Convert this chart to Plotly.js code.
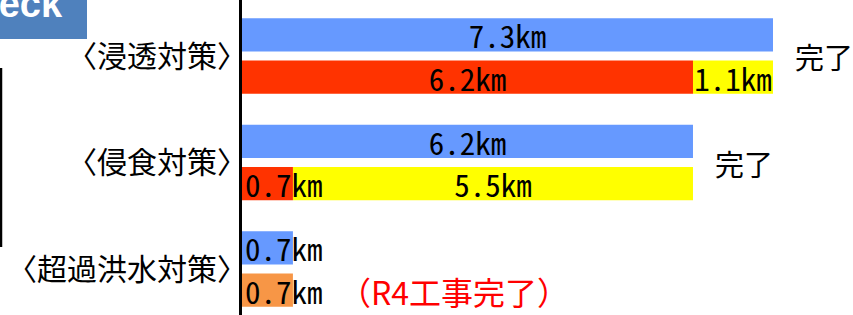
<!DOCTYPE html>
<html>
<head>
<meta charset="utf-8">
<script src="https://cdn.plot.ly/plotly-3.0.1.min.js"></script>
<style>html,body{margin:0;padding:0;background:#fff;}#chart{width:853px;height:315px;}</style>
</head>
<body>
<div id="chart"></div>
<script>
// ---- data ----
const categories = ['〈浸透対策〉', '〈侵食対策〉', '〈超過洪水対策〉'];
const planKm     = [7.3, 6.2, 0.7];      // 計画延長 (blue)
const doneKm     = [6.2, 0.7, null];     // 整備済 (red)
const recentKm   = [1.1, 5.5, null];     // 整備 (yellow)
const r4Km       = [null, null, 0.7];    // R4工事 (orange)
const statusText = ['完了', '完了', null];
const noteText   = [null, null, '（R4工事完了）'];

// ---- layout helpers ----
const W = 853, H = 315, L = 242;
const PW = W - L, PH = H;
const px2x = p => (p - L) / PW;
const py2y = p => 1 - p / PH;

const barFont = {family: 'Noto Sans Mono CJK JP, Noto Sans CJK JP, sans-serif', size: 31, color: '#000'};
const jpFont = 'Noto Sans CJK JP, sans-serif';

const traces = [];
function addSeries(name, vals, bases, color, group) {
  vals.forEach((v, i) => {
    if (v == null) return;
    const t = {
      type: 'bar', orientation: 'h', name: name,
      y: [categories[i]], x: [v],
      offsetgroup: group,
      marker: {color: color, line: {width: 0}},
      text: [v.toFixed(1) + 'km'],
      textposition: 'inside',
      insidetextanchor: v < 1 ? 'start' : 'middle',
      constraintext: 'none',
      textfont: barFont, insidetextfont: barFont,
      showlegend: false, hoverinfo: 'skip'
    };
    if (bases) t.base = [bases[i]];
    traces.push(t);
  });
}
// plan group first (upper bar); yellow drawn before red so short red labels stay visible
addSeries('計画延長', planKm, null, '#6699FF', 'plan');
addSeries('整備', recentKm, doneKm, '#FFFF00', 'done');
addSeries('整備済', doneKm, null, '#FF3300', 'done');
addSeries('R4工事', r4Km, null, '#F79646', 'done');

const annotations = [];
statusText.forEach((s, i) => {
  if (!s) return;
  annotations.push({x: planKm[i], y: categories[i], xref: 'x', yref: 'y', text: s,
    showarrow: false, xanchor: 'left', xshift: 20, font: {family: jpFont, size: 29, color: '#000'}});
});
noteText.forEach((s, i) => {
  if (!s) return;
  annotations.push({x: r4Km[i], y: categories[i], xref: 'x', yref: 'y', text: s,
    showarrow: false, xanchor: 'left', xshift: 44, yshift: -22, font: {family: jpFont, size: 32, color: '#FF0000'}});
});
annotations.push({x: px2x(65), y: py2y(27), xref: 'paper', yref: 'paper', text: '<b>Check</b>',
  showarrow: false, xanchor: 'right', yanchor: 'bottom', font: {family: 'Liberation Sans, Arial, sans-serif', size: 38, color: '#fff'}});

const layout = {
  width: W, height: H,
  margin: {l: L, r: 0, t: 0, b: 0, pad: 0},
  paper_bgcolor: '#fff', plot_bgcolor: '#fff',
  barmode: 'group', bargap: 0.21, bargroupgap: 0.21,
  xaxis: {range: [0, PW / 72.74], showgrid: false, zeroline: false, showticklabels: false, showline: false, ticks: ''},
  yaxis: {type: 'category', categoryorder: 'array', categoryarray: categories,
    range: [2.432, -0.526], showgrid: false, zeroline: false,
    showline: true, linecolor: '#000', linewidth: 3, ticks: '',
    ticklabelstandoff: -14,
    tickfont: {family: jpFont, size: 30, color: '#000'}},
  shapes: [
    {type: 'rect', xref: 'paper', yref: 'paper', x0: px2x(-3), x1: px2x(87), y0: py2y(39), y1: py2y(-3),
     fillcolor: '#4F81BD', line: {width: 0}, layer: 'below'},
    {type: 'line', xref: 'paper', yref: 'paper', x0: px2x(1), x1: px2x(1), y0: py2y(68), y1: py2y(247),
     line: {color: '#000', width: 2.5}}
  ],
  annotations: annotations,
  showlegend: false
};

Plotly.newPlot('chart', traces, layout, {staticPlot: true, displayModeBar: false});
</script>
</body>
</html>
